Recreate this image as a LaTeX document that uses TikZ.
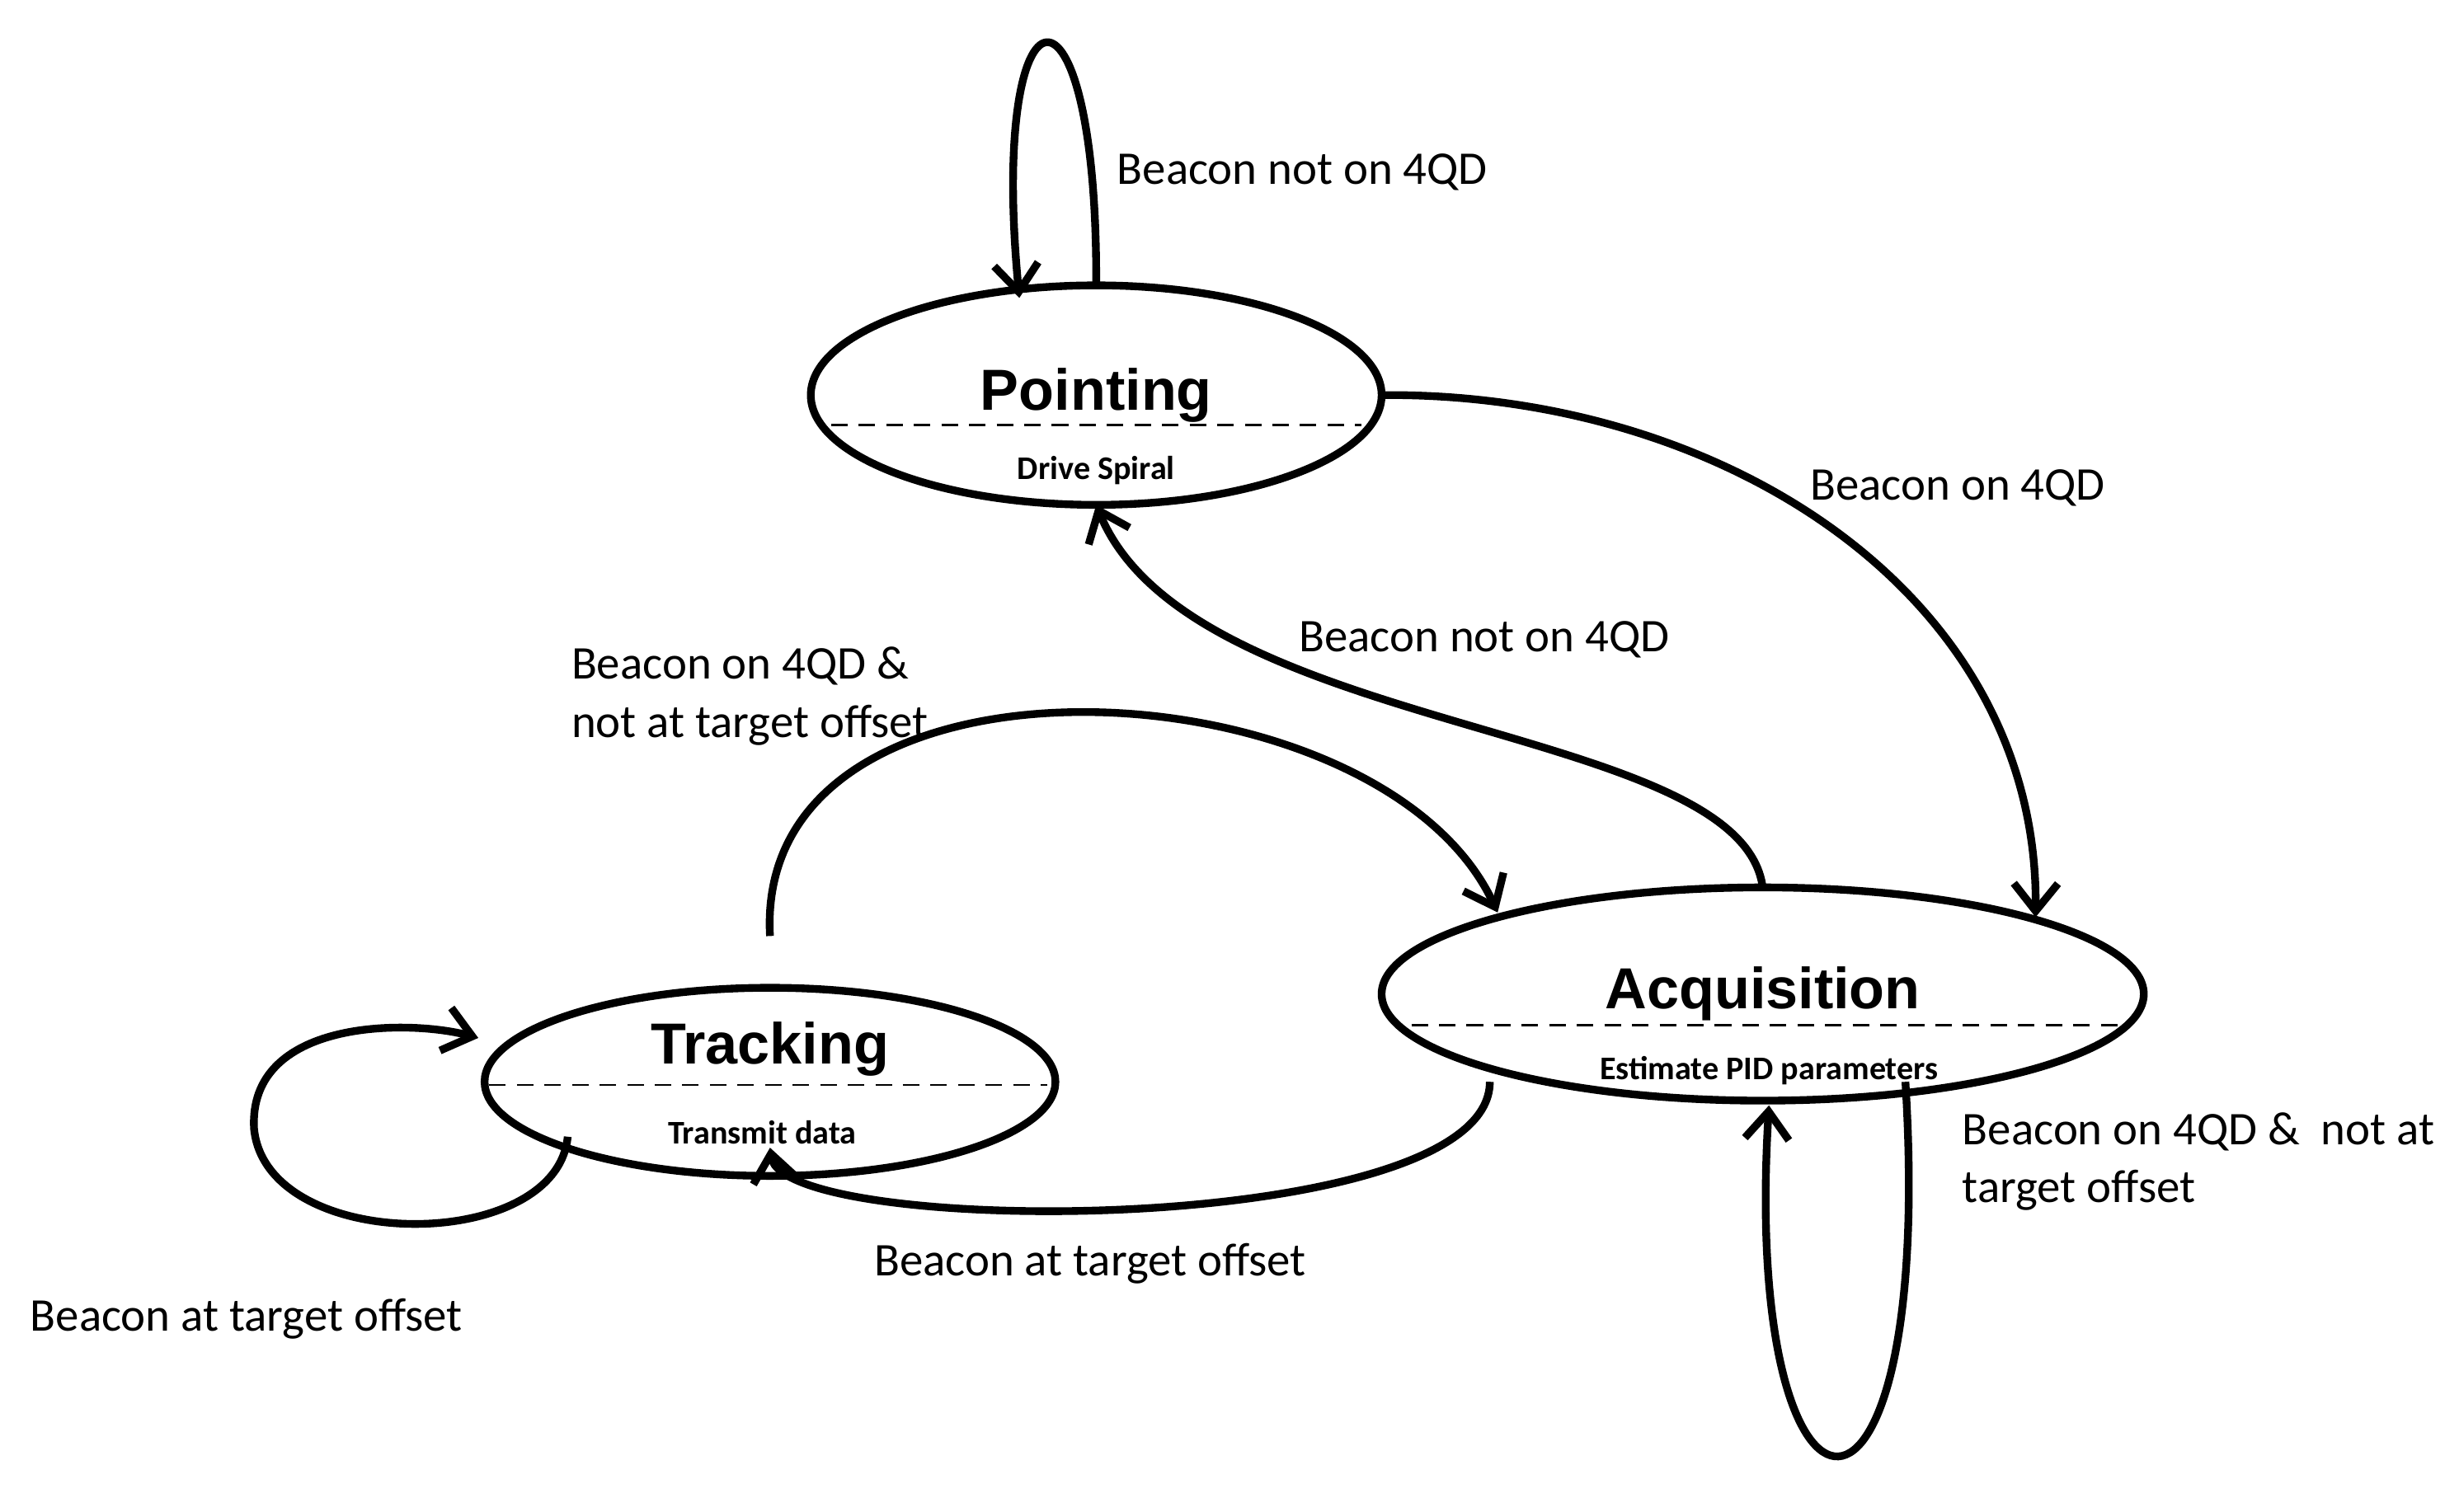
\documentclass[tikz,border=0pt]{standalone}
\usepackage{fontspec}
\setmainfont{Carlito}
\newfontfamily\ttlfont{Liberation Sans}
\usetikzlibrary{shapes.geometric,arrows.meta}
\begin{document}
\begin{tikzpicture}[x=0.01cm,y=-0.01cm,
  ar/.style={line width=1.4pt,-{Straight Barb[length=5pt,width=8pt]}},
  lbl/.style={font=\fontsize{8.5}{10.5}\selectfont,anchor=west,align=left},
  ttl/.style={font=\ttlfont\bfseries\fontsize{10.5}{12}\selectfont},
  sub/.style={font=\bfseries\fontsize{6}{7}\selectfont}]
\useasboundingbox (0,0) rectangle (1568,964);
\draw[line width=1.4pt] (699,252) ellipse [x radius=182,y radius=70];
\draw[line width=1.4pt] (1124,634) ellipse [x radius=243,y radius=68];
\draw[line width=1.4pt] (491,690) ellipse [x radius=182,y radius=60];
\coordinate (Pn) at (699,182); \coordinate (Ps) at (699,322); \coordinate (Pe) at (881,252);
\coordinate (An) at (1124,566);
\draw[densely dashed] (530,271) -- (868,271);
\draw[densely dashed] (900,654) -- (1358,654);
\draw[densely dashed] (312,692) -- (668,692);
\node[ttl] (pt) at (699,252) {Pointing};
\node[sub] (ps) at (699,300) {Drive Spiral};
\node[ttl] (at) at (1124,634) {Acquisition};
\node[sub] (as) at (1128,683) {Estimate PID parameters};
\node[ttl] (tt) at (491,669) {Tracking};
\node[sub] (ts) at (486,722) {Transmit data};
\draw[ar] (Pn) .. controls (700,-30) and (630,-20) .. (650,190);
\draw[ar] (Pe) .. controls (1100,250) and (1300,380) .. (1298,585);
\draw[ar] (An) .. controls (1110,460) and (760,470) .. (Ps);
\draw[ar] (491,597) .. controls (480,400) and (880,420) .. (955,582);
\draw[ar] (950,690) .. controls (950,790) and (500,790) .. (491,732);
\draw[ar] (362,725) .. controls (355,800) and (170,800) .. (162,720) .. controls (158,650) and (260,650) .. (305,662);
\draw[ar] (1215,690) .. controls (1235,1010) and (1110,1000) .. (1128,705);
\node[lbl] (l1) at (700,110) {Beacon not on 4QD};
\node[lbl] (l2) at (1142,311) {Beacon on 4QD};
\node[lbl] (l3) at (816,408) {Beacon not on 4QD};
\node[lbl] (l4) at (352,444) {Beacon on 4QD \&\\not at target offset};
\node[lbl] (l5) at (1239,741) {Beacon on 4QD \&\ \ not at\\target offset};
\node[lbl] (l6) at (545,806) {Beacon at target offset};
\node[lbl] (l7) at (7,841) {Beacon at target offset};
\end{tikzpicture}
\end{document}
